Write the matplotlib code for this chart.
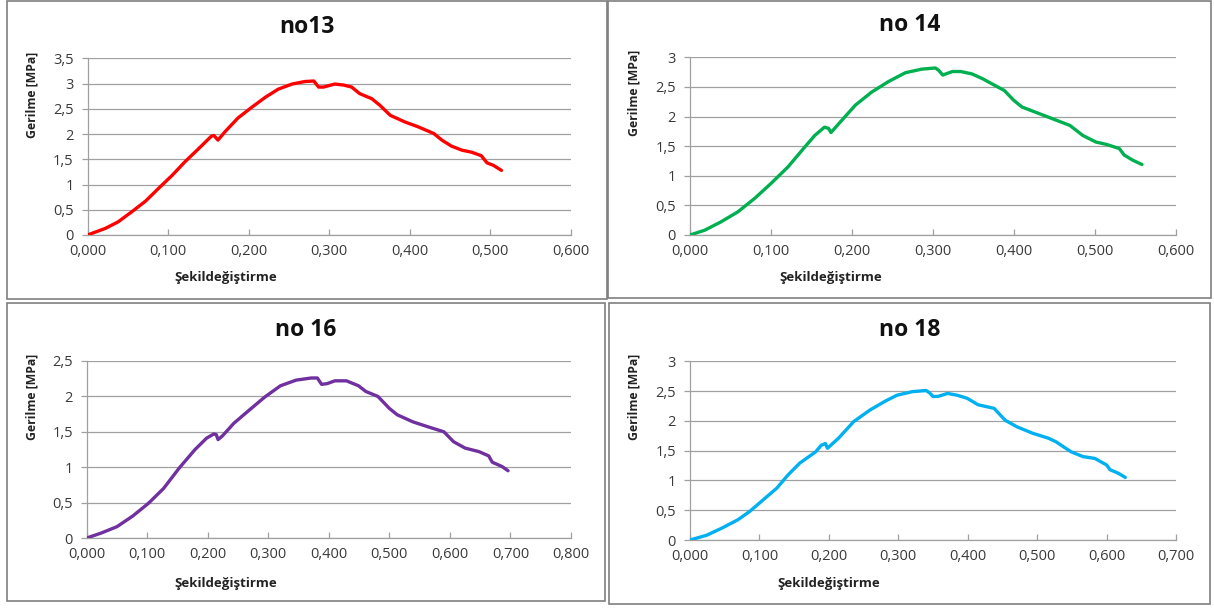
import matplotlib
matplotlib.use("Agg")
import matplotlib.pyplot as plt
from matplotlib.ticker import FuncFormatter, MultipleLocator
from matplotlib.patches import Rectangle

plt.rcParams['font.family'] = ['Open Sans', 'DejaVu Sans']

# ---------------- data ----------------
titles = ["no13", "no 14", "no 16", "no 18"]
colors = ["#ff0000", "#00b050", "#7030a0", "#00b0f0"]
xlabel = "Şekildeğiştirme"
ylabel = "Gerilme [MPa]"

x13 = [0.000, 0.022, 0.038, 0.055, 0.072, 0.088, 0.105, 0.121, 0.138, 0.154, 0.157, 0.162,
       0.171, 0.187, 0.204, 0.221, 0.237, 0.254, 0.270, 0.281, 0.287, 0.293, 0.307, 0.318,
       0.328, 0.338, 0.353, 0.363, 0.376, 0.394, 0.411, 0.430, 0.440, 0.452, 0.465, 0.477,
       0.489, 0.496, 0.504, 0.514]
y13 = [0.00, 0.13, 0.26, 0.46, 0.67, 0.92, 1.18, 1.45, 1.71, 1.96, 1.97, 1.88,
       2.05, 2.32, 2.53, 2.73, 2.89, 2.99, 3.04, 3.05, 2.93, 2.93, 2.99, 2.97,
       2.93, 2.80, 2.70, 2.57, 2.37, 2.24, 2.14, 2.01, 1.88, 1.76, 1.68, 1.64,
       1.57, 1.43, 1.38, 1.28]

x14 = [0.000, 0.018, 0.038, 0.059, 0.080, 0.100, 0.121, 0.142, 0.154, 0.166, 0.171, 0.174,
       0.187, 0.204, 0.224, 0.245, 0.266, 0.286, 0.303, 0.307, 0.312, 0.324, 0.334, 0.348,
       0.361, 0.373, 0.388, 0.400, 0.410, 0.431, 0.448, 0.469, 0.485, 0.501, 0.514, 0.530,
       0.536, 0.547, 0.558]
y14 = [0.00, 0.08, 0.22, 0.39, 0.62, 0.87, 1.15, 1.49, 1.68, 1.82, 1.80, 1.73,
       1.93, 2.19, 2.41, 2.59, 2.74, 2.80, 2.82, 2.78, 2.70, 2.76, 2.76, 2.72,
       2.64, 2.55, 2.44, 2.27, 2.16, 2.05, 1.96, 1.85, 1.68, 1.57, 1.53, 1.46,
       1.35, 1.26, 1.19]

x16 = [0.000, 0.024, 0.050, 0.076, 0.102, 0.127, 0.153, 0.179, 0.198, 0.210, 0.214, 0.217,
       0.224, 0.243, 0.269, 0.294, 0.320, 0.346, 0.371, 0.381, 0.388, 0.397, 0.410, 0.429,
       0.449, 0.461, 0.481, 0.500, 0.513, 0.539, 0.564, 0.590, 0.606, 0.625, 0.648, 0.664,
       0.670, 0.686, 0.696]
y16 = [0.00, 0.07, 0.16, 0.31, 0.49, 0.70, 0.99, 1.25, 1.41, 1.47, 1.46, 1.39,
       1.44, 1.62, 1.81, 1.99, 2.15, 2.23, 2.26, 2.26, 2.17, 2.18, 2.22, 2.22,
       2.15, 2.07, 2.00, 1.83, 1.74, 1.64, 1.57, 1.50, 1.36, 1.27, 1.22, 1.16,
       1.07, 1.01, 0.95]

x18 = [0.000, 0.024, 0.046, 0.069, 0.086, 0.102, 0.125, 0.141, 0.158, 0.181, 0.189, 0.195,
       0.198, 0.214, 0.236, 0.259, 0.281, 0.298, 0.320, 0.340, 0.345, 0.350, 0.357, 0.371,
       0.385, 0.399, 0.415, 0.438, 0.454, 0.471, 0.494, 0.516, 0.527, 0.549, 0.566, 0.583,
       0.600, 0.605, 0.617, 0.627]
y18 = [0.00, 0.08, 0.20, 0.34, 0.48, 0.64, 0.87, 1.09, 1.29, 1.48, 1.59, 1.62,
       1.54, 1.71, 1.99, 2.18, 2.33, 2.43, 2.49, 2.51, 2.47, 2.41, 2.41, 2.46,
       2.43, 2.38, 2.27, 2.21, 2.01, 1.90, 1.79, 1.71, 1.65, 1.48, 1.40, 1.37,
       1.26, 1.18, 1.12, 1.05]

xs = [x13, x14, x16, x18]
ys = [y13, y14, y16, y18]
xmaxs = [0.6, 0.6, 0.8, 0.7]
ymaxs = [3.5, 3.0, 2.5, 3.0]

# ---------------- layout (pixels) ----------------
W, H = 1214, 608
fig = plt.figure(figsize=(W / 100, H / 100), dpi=100)

def frac(x0, y0, x1, y1):
    return [x0 / W, 1 - y1 / H, (x1 - x0) / W, (y1 - y0) / H]

axes_px = [(87.5, 58.3, 570.7, 235.0),
           (690.0, 57.3, 1176.0, 235.0),
           (86.7, 361.0, 571.0, 538.0),
           (690.0, 361.3, 1176.0, 540.0)]
boxes_px = [(7, 1, 607, 299), (608, 1, 1211, 298), (7, 303, 605, 601), (609, 303, 1210, 604)]
title_px = [(307, 27), (910, 25), (306, 330), (910, 330)]
ylab_px = [(32, 95), (634, 93), (32, 397), (634, 397)]
xlab_px = [(226, 278), (831, 278), (226, 583), (829, 583)]

for (x0, y0, x1, y1) in boxes_px:
    fig.patches.append(Rectangle((x0 / W, 1 - y1 / H), (x1 - x0) / W, (y1 - y0) / H,
                                 transform=fig.transFigure, fill=False,
                                 edgecolor="#7f7f7f", linewidth=1.2))

xfmt = FuncFormatter(lambda v, p: f"{v:.3f}".replace(".", ","))
yfmt = FuncFormatter(lambda v, p: f"{v:g}".replace(".", ","))

for i in range(4):
    ax = fig.add_axes(frac(*axes_px[i]))
    ax.plot(xs[i], ys[i], color=colors[i], linewidth=2.4, solid_capstyle="round",
            solid_joinstyle="round", zorder=3)
    ax.set_xlim(0, xmaxs[i])
    ax.set_ylim(0, ymaxs[i])
    ax.xaxis.set_major_locator(MultipleLocator(0.1))
    ax.yaxis.set_major_locator(MultipleLocator(0.5))
    ax.xaxis.set_major_formatter(xfmt)
    ax.yaxis.set_major_formatter(yfmt)
    ax.grid(axis="y", color="#a0a0a0", linewidth=0.9)
    ax.set_axisbelow(True)
    for s in ("top", "right"):
        ax.spines[s].set_visible(False)
    for s in ("left", "bottom"):
        ax.spines[s].set_color("#a0a0a0")
        ax.spines[s].set_linewidth(0.9)
    ax.tick_params(axis="y", direction="out", length=4.5, width=0.9, color="#a0a0a0",
                   pad=5.5, labelsize=10.5, labelcolor="#3a3a3a")
    ax.tick_params(axis="x", direction="in", length=4, width=0.9, color="#a0a0a0",
                   pad=6.5, labelsize=10.5, labelcolor="#3a3a3a")
    tx, ty = title_px[i]
    fig.text(tx / W, 1 - ty / H, titles[i], ha="center", va="center",
             fontsize=16.5, fontweight="bold", color="#111111")
    lx, ly = ylab_px[i]
    fig.text(lx / W, 1 - ly / H, ylabel, ha="center", va="center", rotation=90,
             fontsize=8.8, fontweight="bold", color="#222222")
    bx, by = xlab_px[i]
    fig.text(bx / W, 1 - by / H, xlabel, ha="center", va="center",
             fontsize=9.5, fontweight="bold", color="#222222")

fig.savefig("out.png", dpi=100, facecolor="white")
